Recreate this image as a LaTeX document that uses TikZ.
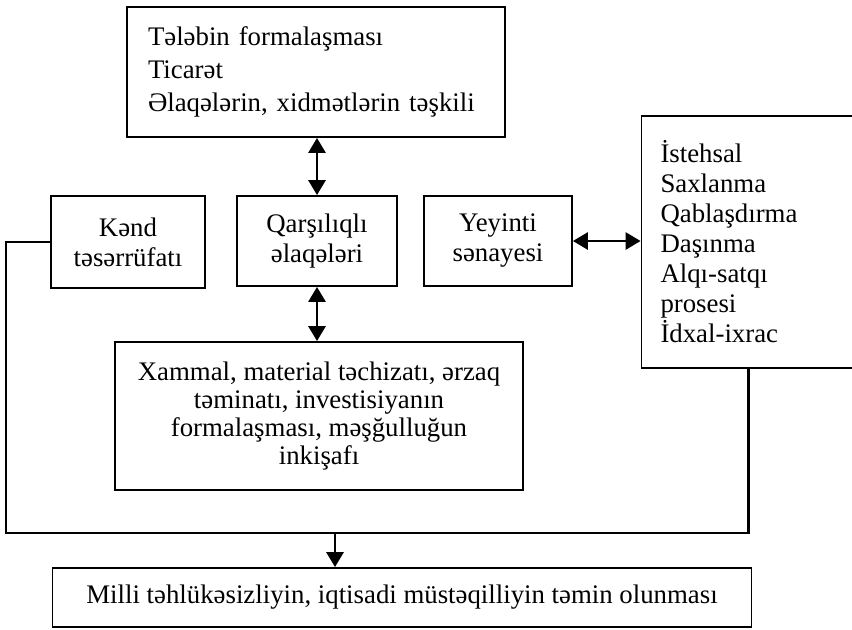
\documentclass[tikz,border=0pt]{standalone}
\usepackage{fontspec}
\setmainfont{Liberation Serif}
\usepackage{tikz}
\usetikzlibrary{arrows.meta, positioning, calc}
\tikzset{every node/.append style={align=center}}
\tikzset{
  blk/.style={rectangle, draw, line width=0.9pt, inner sep=0pt,
    font=\fontsize{13.4}{15}\selectfont, align=center},
  lst/.style={blk, align=left, inner xsep=10pt, inner ysep=0pt},
  link/.style={line width=1.4pt},
  arrow/.style={-{Triangle[width=8.5pt,length=7.5pt]}, line width=1.4pt},
  both/.style={{Triangle[width=8.5pt,length=7.5pt]}-{Triangle[width=8.5pt,length=7.5pt]}, line width=1.4pt}
}

\begin{document}
\begin{tikzpicture}[x=0.5pt, y=-0.5pt]
  \useasboundingbox (0,0) rectangle (852,629);
  % upper part
  \node[lst, text width=168pt, inner xsep=10.5pt, minimum height=65pt,
    font=\fontsize{13.4}{16.5}\selectfont] (talab) at (316,72)
    {Tələbin formalaşması\\Ticarət\\Əlaqələrin, xidmətlərin təşkili};
  \node[blk, minimum width=77pt, minimum height=46pt] (kend) at (128,242)
    {Kənd\\təsərrüfatı};
  \node[blk, minimum width=80pt, minimum height=45pt] (qars) at (317,241)
    {Qarşılıqlı\\əlaqələri};
  \node[blk, minimum width=74pt, minimum height=45pt] (yey) at (498,241)
    {Yeyinti\\sənayesi};
  \node[lst, text width=88pt, inner xsep=9.5pt, minimum height=126pt] (prc) at (748.5,242)
    {İstehsal\\Saxlanma\\Qablaşdırma\\Daşınma\\Alqı-satqı\\prosesi\\İdxal-ixrac};
  % lower part
  \node[blk, minimum width=204pt, minimum height=74pt,
    font=\fontsize{13.4}{14}\selectfont] (xam) at (319,416)
    {Xammal, material təchizatı, ərzaq\\təminatı, investisiyanın\\formalaşması, məşğulluğun\\inkişafı};
  \node[blk, minimum width=349.5pt, minimum height=29.5pt] (milli) at (402,597.5)
    {Milli təhlükəsizliyin, iqtisadi müstəqilliyin təmin olunması};

  \draw[both] (talab.south -| qars) -- (qars.north);
  \draw[both] (qars.south) -- (qars.south |- xam.north);
  \draw[both] (yey.east) -- (yey.east -| prc.west);

  \coordinate (bl) at (6,533);
  \coordinate (jn) at (335,533);
  \draw[link] (kend.west) -| (bl) -- (prc.south |- bl) -- (prc.south);
  \draw[arrow] (jn) -- (jn |- milli.north);
\end{tikzpicture}
\end{document}
